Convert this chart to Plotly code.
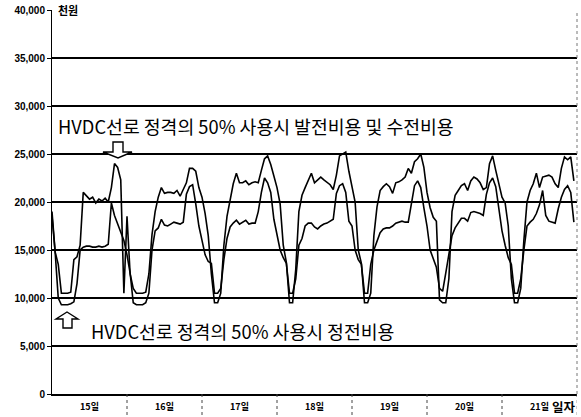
import plotly.graph_objects as go

# ---------------- data (hourly, 15th-21st) ----------------
day_labels = ["15일", "16일", "17일", "18일", "19일", "20일", "21일"]
y_tick_vals = [0, 5000, 10000, 15000, 20000, 25000, 30000, 35000, 40000]
y_tick_text = ["0", "5,000", "10,000", "15,000", "20,000", "25,000", "30,000", "35,000", "40,000"]

# 발전비용 및 수전비용 (HVDC 50%)
gen_cost = (
    [19000, 14800, 13500, 10500, 10500, 10500, 10600, 14000, 14300, 15500, 21000, 20700,
     20300, 20500, 19900, 20300, 20100, 20400, 20000, 21500, 24000, 23600, 22300, 10500]    # 15일
    + [18500, 12500, 11000, 10500, 10500, 10500, 10600, 12500, 16600, 19000, 20500, 21500,
       20900, 21000, 21000, 20900, 21200, 20600, 21300, 22000, 23500, 23500, 23200, 21500]  # 16일
    + [20500, 18800, 16500, 12500, 9500, 9500, 10500, 15500, 18500, 20400, 21900, 23000,
       22000, 22000, 22200, 21800, 22000, 22100, 22000, 23300, 24500, 24800, 23900, 22700]  # 17일
    + [21500, 19800, 15500, 13700, 9500, 9500, 13000, 19000, 20700, 21500, 22300, 23000,
       22000, 22300, 22600, 22300, 22000, 21800, 21300, 22800, 24800, 25000, 25200, 23200]  # 18일
    + [21500, 20000, 15000, 13600, 9500, 9500, 10500, 16500, 19500, 21200, 21600, 21900,
       21600, 20900, 22000, 22100, 22300, 22600, 23500, 23000, 24200, 24500, 25000, 23600]  # 19일
    + [21000, 19400, 18400, 18000, 9800, 9500, 9500, 12000, 19000, 20700, 21200, 21700,
       21900, 21200, 22200, 22600, 22400, 22000, 21300, 21500, 24000, 24800, 23300, 21900]  # 20일
    + [20500, 19900, 17500, 12000, 9500, 9500, 11000, 16000, 20000, 21200, 21900, 23000,
       21500, 22600, 22700, 22800, 22600, 21900, 21500, 23500, 24700, 24400, 24700, 22200]  # 21일
)

# 정전비용 (HVDC 50%)
outage_cost = (
    [18500, 14800, 10000, 9300, 9300, 9300, 9400, 9600, 11500, 15000, 15300, 15400,
     15400, 15300, 15300, 15400, 15300, 15400, 15600, 19900, 18600, 17800, 17000, 16000]   # 15일
    + [14500, 12600, 9500, 9300, 9300, 9300, 9500, 10500, 15000, 17000, 17300, 18200,
       17600, 17500, 17700, 17900, 17800, 17700, 17900, 20800, 21600, 21800, 19800, 17500]  # 16일
    + [16000, 14500, 13800, 13600, 10500, 10500, 11000, 14000, 16200, 17400, 17800, 18100,
       17700, 17900, 18100, 17700, 17800, 17800, 19000, 21000, 22500, 22000, 21000, 18200]  # 17일
    + [16500, 15000, 14200, 13600, 10500, 10500, 12000, 15500, 16200, 17500, 17800, 17800,
       17400, 17200, 17500, 17700, 17800, 18000, 18200, 20900, 21700, 21900, 21000, 18000]  # 18일
    + [17500, 15000, 14000, 13500, 10500, 10500, 13500, 15000, 15800, 16800, 17200, 17300,
       17300, 17500, 17800, 17900, 18000, 17900, 17900, 19800, 21700, 22200, 21500, 19400]  # 19일
    + [17500, 15000, 14000, 13200, 11000, 10700, 12600, 14500, 16500, 17300, 17800, 18300,
       18300, 18000, 18900, 19000, 18900, 18800, 18600, 20800, 22000, 22500, 21600, 19200]  # 20일
    + [17000, 15500, 14200, 13500, 10500, 10500, 12000, 15000, 17500, 17900, 18200, 18800,
       19700, 21200, 18600, 18000, 17900, 17800, 19300, 20500, 21300, 21700, 21000, 17900]  # 21일
)

hours = list(range(len(gen_cost)))
HOURS_PER_DAY = 24
n_days = len(day_labels)

# ---------------- figure ----------------
W, H = 581, 417
ML, MR, MT, MB = 52, 4, 10, 23
X_MAX = n_days * HOURS_PER_DAY
Y_MAX = 40000
PW, PH = W - ML - MR, H - MT - MB


def px_x(px):
    return (px - ML) / PW * X_MAX


def px_y(py):
    return (H - MB - py) / PH * Y_MAX


fig = go.Figure()
fig.add_trace(go.Scatter(x=hours, y=gen_cost, mode="lines",
                         line=dict(color="black", width=1.6),
                         name="HVDC선로 정격의 50% 사용시 발전비용 및 수전비용"))
fig.add_trace(go.Scatter(x=hours, y=outage_cost, mode="lines",
                         line=dict(color="black", width=1.6),
                         name="HVDC선로 정격의 50% 사용시 정전비용"))

num_font = "Liberation Sans Narrow, Arial Narrow, Liberation Sans, Arial"
kr_font = "Noto Sans CJK KR, Noto Sans, sans-serif"

fig.update_layout(
    width=W, height=H,
    margin=dict(l=ML, r=MR, t=MT, b=MB, pad=0, autoexpand=False),
    paper_bgcolor="white", plot_bgcolor="white",
    showlegend=False,
    xaxis=dict(
        range=[0, X_MAX], automargin=False,
        tickvals=[d * HOURS_PER_DAY + 12 for d in range(n_days)],
        ticktext=day_labels,
        ticks="", ticklabelstandoff=3,
        tickfont=dict(family=kr_font, size=9, color="black", weight="bold"),
        showgrid=False, zeroline=False,
        showline=True, linecolor="black", linewidth=2,
    ),
    yaxis=dict(
        range=[0, Y_MAX], automargin=False,
        tickvals=y_tick_vals, ticktext=y_tick_text,
        ticks="outside", ticklen=4, tickcolor="black", tickwidth=1,
        tickfont=dict(family=num_font, size=10, color="black", weight="bold"),
        showgrid=True, gridcolor="black", gridwidth=2,
        zeroline=False,
        showline=True, linecolor="black", linewidth=1,
    ),
)

# day-boundary ticks below the axis (dotted)
for d in range(1, n_days + 1):
    fig.add_shape(type="line", xref="x", yref="paper",
                  x0=d * HOURS_PER_DAY, x1=d * HOURS_PER_DAY, y0=0, y1=-22 / PH,
                  line=dict(color="#444", width=1, dash="dot"))

# right border (dotted)
fig.add_shape(type="line", xref="paper", yref="paper", x0=1, x1=1, y0=0, y1=1,
              line=dict(color="#777", width=1, dash="dot"))

# hollow block arrows
def poly(points):
    return "M " + " L ".join(f"{px_x(a):.3f},{px_y(b):.1f}" for a, b in points) + " Z"

arrow_style = dict(type="path", xref="x", yref="y", fillcolor="white",
                   line=dict(color="black", width=1.4), layer="above")
# top arrow (pointing down)
fig.add_shape(path=poly([(113, 142), (123, 142), (123, 152), (132, 152), (118, 158),
                         (103, 152), (113, 152)]), **arrow_style)
# bottom arrow (pointing up)
fig.add_shape(path=poly([(63, 328), (72, 328), (72, 319), (78, 319), (67, 312),
                         (56, 319), (63, 319)]), **arrow_style)

# annotations
fig.add_annotation(xref="paper", yref="y", x=(56 - ML) / PW, y=Y_MAX,
                   text="천원", showarrow=False, xanchor="left", yanchor="middle",
                   bgcolor="white", borderpad=1,
                   font=dict(family=kr_font, size=11, color="black", weight="bold"))
fig.add_annotation(xref="x", yref="y", x=px_x(256), y=px_y(126),
                   text="HVDC선로 정격의 50% 사용시 발전비용 및 수전비용", showarrow=False,
                   xanchor="center", yanchor="middle",
                   font=dict(family=kr_font, size=18.3, color="black"))
fig.add_annotation(xref="x", yref="y", x=px_x(242), y=px_y(331),
                   text="HVDC선로 정격의 50% 사용시 정전비용", showarrow=False,
                   xanchor="center", yanchor="middle",
                   font=dict(family=kr_font, size=18.3, color="black"))
fig.add_annotation(xref="paper", yref="paper", x=1.0, y=-(406 - (H - MB)) / PH,
                   text="일자", showarrow=False, xanchor="right", yanchor="middle",
                   bgcolor="white", borderpad=0,
                   font=dict(family=kr_font, size=12.5, color="black", weight="bold"))

# remove the default 8px page margin so the figure sits at the window origin
fig.write_html(
    "out.html",
    config={"displayModeBar": False},
    post_script="document.body.style.margin='0';document.body.style.padding='0';"
                "document.documentElement.style.overflow='hidden';",
)
